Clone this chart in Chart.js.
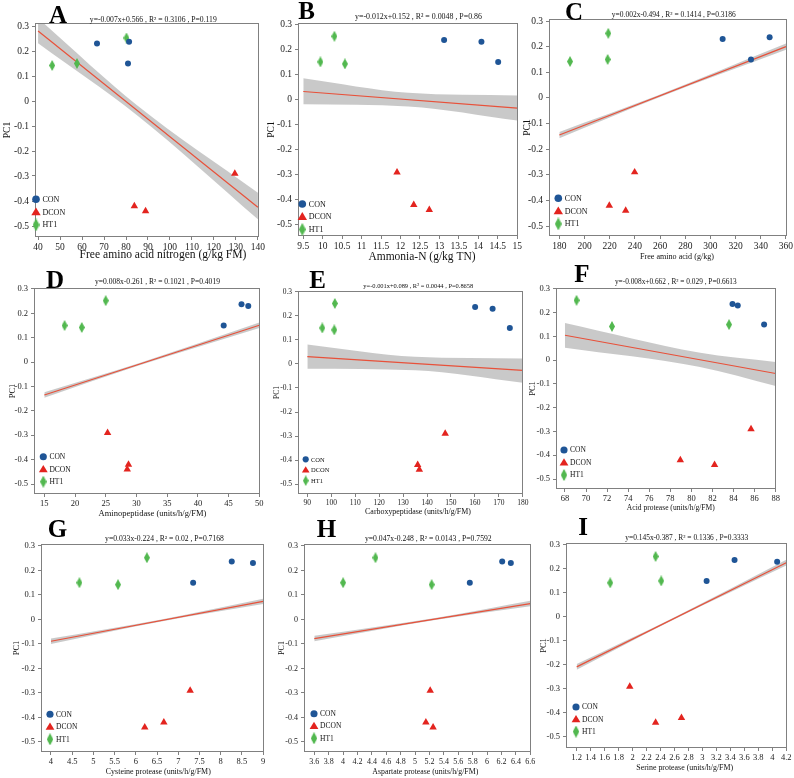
<!DOCTYPE html>
<html>
<head>
<meta charset="utf-8">
<script src="https://cdn.jsdelivr.net/npm/chart.js@4.4.1/dist/chart.umd.min.js"></script>
<style>
  html, body { margin: 0; padding: 0; background: #fff; }
  body { width: 794px; height: 778px; position: relative; overflow: hidden; }
  canvas { position: absolute; }
</style>
</head>
<body>
<script>
// Textes des panneaux
const panelLetters = ["A", "B", "C", "D", "E", "F", "G", "H", "I"];
const xTitles = [
    "Free amino acid nitrogen (g/kg FM)",
    "Ammonia-N (g/kg TN)",
    "Free amino acid (g/kg)",
    "Aminopeptidase (units/h/g/FM)",
    "Carboxypeptidase (units/h/g/FM)",
    "Acid protease (units/h/g/FM)",
    "Cysteine protease (units/h/g/FM)",
    "Aspartate protease (units/h/g/FM)",
    "Serine protease (units/h/g/FM)"
];
const equations = [
    "y=-0.007x+0.566 , R² = 0.3106 , P=0.119",
    "y=-0.012x+0.152 , R² = 0.0048 , P=0.86",
    "y=0.002x-0.494 , R² = 0.1414 , P=0.3186",
    "y=0.008x-0.261 , R² = 0.1021 , P=0.4019",
    "y=-0.001x+0.089 , R² = 0.0044 , P=0.8658",
    "y=-0.008x+0.662 , R² = 0.029 , P=0.6613",
    "y=0.033x-0.224 , R² = 0.02 , P=0.7168",
    "y=0.047x-0.248 , R² = 0.0143 , P=0.7592",
    "y=0.145x-0.387 , R² = 0.1336 , P=0.3333"
];
const groupNames = ["CON", "DCON", "HT1"];

// PC1 (même valeurs dans chaque panneau)
const pc1Con = [0.237, 0.230, 0.150];
const pc1Dcon = [-0.290, -0.420, -0.440];
const pc1Ht1 = [0.252, 0.150, 0.142];

// valeurs x par panneau (A..I), dans l'ordre des PC1 ci-dessus
const conX = [
    [81.4, 66.8, 80.9], [13.12, 14.08, 14.51], [347.0, 309.7, 332.2],
    [47.1, 48.2, 44.2], [160.1, 167.4, 174.6], [83.9, 84.4, 86.9],
    [8.26, 8.76, 7.35], [6.21, 6.33, 5.76], [3.46, 4.07, 3.06]
];
const dconX = [
    [129.5, 83.8, 88.9], [11.91, 12.34, 12.74], [239.8, 219.7, 232.7],
    [25.3, 28.7, 28.5], [147.6, 136.1, 136.8], [85.66, 78.95, 82.2],
    [7.28, 6.66, 6.21], [5.21, 5.15, 5.25], [1.96, 2.70, 2.33]
];
const ht1X = [
    [80.2, 57.7, 46.4], [10.30, 9.94, 10.57], [218.9, 218.4, 188.5],
    [25.0, 18.3, 21.1], [101.5, 96.25, 101.25], [69.1, 83.57, 72.46],
    [6.26, 4.67, 5.58], [4.45, 4.00, 5.23], [2.33, 2.41, 1.68]
];

// droite de régression (extrémités)
const fitX = [[40, 140], [9.5, 15], [180, 360], [15, 50], [90, 180], [68, 88], [4, 9], [3.6, 6.6], [1.2, 4.2]];
const fitY = [[0.280, -0.425], [0.032, -0.034], [-0.145, 0.200], [-0.135, 0.151], [0.031, -0.027],
              [0.105, -0.056], [-0.089, 0.074], [-0.078, 0.065], [-0.208, 0.226]];

// bande de confiance (début, milieu, fin)
const bandX = [[40, 85, 140], [9.5, 12.2, 15], [180, 258, 360], [15, 30.5, 50], [90, 135, 180],
               [68, 80.7, 88], [4, 6.6, 9], [3.6, 5.3, 6.6], [1.2, 2.6, 4.2]];
const bandUpper = [[0.331, -0.017, -0.367], [0.085, 0.027, 0.016], [-0.133, 0.009, 0.212],
                   [-0.124, -0.004, 0.162], [0.081, 0.030, 0.023], [0.157, 0.033, -0.007],
                   [-0.078, 0.000, 0.085], [-0.067, 0.007, 0.076], [-0.196, -0.001, 0.238]];
const bandLower = [[0.231, -0.057, -0.473], [-0.019, -0.028, -0.084], [-0.157, 0.000, 0.188],
                   [-0.146, -0.013, 0.140], [-0.020, -0.026, -0.078], [0.053, -0.027, -0.108],
                   [-0.100, -0.008, 0.063], [-0.089, -0.001, 0.054], [-0.220, -0.010, 0.214]];

// graduations
const yTicks = [-0.5, -0.4, -0.3, -0.2, -0.1, 0, 0.1, 0.2, 0.3];
const xTicks = [
    [40, 50, 60, 70, 80, 90, 100, 110, 120, 130, 140],
    [9.5, 10, 10.5, 11, 11.5, 12, 12.5, 13, 13.5, 14, 14.5, 15],
    [180, 200, 220, 240, 260, 280, 300, 320, 340, 360],
    [15, 20, 25, 30, 35, 40, 45, 50],
    [90, 100, 110, 120, 130, 140, 150, 160, 170, 180],
    [68, 70, 72, 74, 76, 78, 80, 82, 84, 86, 88],
    [4, 4.5, 5, 5.5, 6, 6.5, 7, 7.5, 8, 8.5, 9],
    [3.6, 3.8, 4, 4.2, 4.4, 4.6, 4.8, 5, 5.2, 5.4, 5.6, 5.8, 6, 6.2, 6.4, 6.6],
    [1.2, 1.4, 1.6, 1.8, 2, 2.2, 2.4, 2.6, 2.8, 3, 3.2, 3.4, 3.6, 3.8, 4, 4.2]
];

// mise en page (coordonnées de la page)
const layout = [
    { frame: [35, 23, 259, 237], xr: [38.6, 140.5], yr: [-0.544, 0.312], tick: 9.5, letter: [58, 22.7], eq: [153.3, 20, 127], xt: [163, 255, 167], pc1: -28, leg: [1, -37.7, 12.8], legFont: 8 },
    { frame: [298, 23, 518, 236], xr: [9.364, 15.02], yr: [-0.544, 0.305], tick: 9.5, letter: [306.7, 19.3], eq: [418.5, 17.3, 127], xt: [422, 256.7, 107], pc1: -27, leg: [4.3, -32, 12.7], legFont: 8 },
    { frame: [549, 19, 787, 236], xr: [171.8, 360.8], yr: [-0.539, 0.308], tick: 9.5, letter: [574, 20], eq: [673.8, 15, 124], xt: [677, 257, 74], pc1: -22, leg: [9.3, -37.7, 12.8], legFont: 8 },
    { frame: [34, 288, 260, 494], xr: [13.32, 50.11], yr: [-0.541, 0.304], tick: 8.5, letter: [55, 288.3], eq: [157.5, 281.7, 125], xt: [152.5, 513.3, 108], pc1: -21, leg: [9.3, -37.3, 12.5], legFont: 7.5 },
    { frame: [298, 291, 523, 494], xr: [86.1, 180.1], yr: [-0.5415, 0.304], tick: 7.5, letter: [317.5, 287.7], eq: [418.3, 286, 110], xt: [418, 511.7, 106], pc1: -21, leg: [7.7, -34.7, 10.7], legFont: 6.5 },
    { frame: [556, 288, 776, 489], xr: [67.15, 88.03], yr: [-0.542, 0.304], tick: 8.5, letter: [582, 281.7], eq: [675.8, 281.7, 122], xt: [670.8, 508.3, 88], pc1: -23, leg: [8, -39, 12.5], legFont: 7.5 },
    { frame: [41, 544, 264, 752], xr: [3.765, 9.02], yr: [-0.541, 0.308], tick: 8.5, letter: [57.5, 536.7], eq: [164.5, 539, 119], xt: [158.3, 771.7, 105], pc1: -24, leg: [9, -37.7, 12.5], legFont: 7.5 },
    { frame: [304, 544, 531, 752], xr: [3.457, 6.61], yr: [-0.541, 0.308], tick: 8, letter: [326.5, 536.7], eq: [428.3, 539, 127], xt: [425.3, 771.7, 106], pc1: -22, leg: [10, -38.3, 12.3], legFont: 7.5 },
    { frame: [566, 543, 787, 748], xr: [1.047, 4.211], yr: [-0.546, 0.308], tick: 8.5, letter: [583, 535], eq: [686.7, 538.3, 123], xt: [684.7, 768.3, 97], pc1: -22, leg: [10, -41, 12.3], legFont: 7.5 }
];

const SERIF = '"Liberation Serif", "Times New Roman", serif';
const colCon = "#1f5596";
const colDcon = "#e3241f";
const colHt1 = "#52b84f";

// losange allongé pour HT1
function diamond(w, h, color) {
    const c = document.createElement("canvas");
    c.width = w; c.height = h;
    const g = c.getContext("2d");
    g.fillStyle = color;
    g.beginPath();
    g.moveTo(w / 2, 0); g.lineTo(w, h / 2); g.lineTo(w / 2, h); g.lineTo(0, h / 2);
    g.closePath(); g.fill();
    return c;
}
const ht1Marker = diamond(6, 11, colHt1);

function fitText(ctx, txt, x, y, width, base, weight) {
    ctx.font = (weight || "") + " " + base + "px " + SERIF;
    const m = ctx.measureText(txt).width;
    ctx.font = (weight || "") + " " + (base * width / m).toFixed(2) + "px " + SERIF;
    ctx.textAlign = "center";
    ctx.textBaseline = "middle";
    ctx.fillText(txt, x, y);
}

// textes, cadre et légende de chaque panneau
const panelText = {
    id: "panelText",
    afterDraw(chart, args, o) {
        const i = o.idx, L = layout[i];
        const ctx = chart.ctx, a = chart.chartArea;
        ctx.save();
        ctx.strokeStyle = "#808080";
        ctx.lineWidth = 1;
        ctx.strokeRect(a.left + 0.5, a.top + 0.5, a.right - a.left - 1, a.bottom - a.top - 1);

        ctx.fillStyle = "#000";
        ctx.font = "bold 25px " + SERIF;
        ctx.textAlign = "center";
        ctx.textBaseline = "alphabetic";
        ctx.fillText(panelLetters[i], L.letter[0] - o.ox, L.letter[1] - o.oy);

        ctx.fillStyle = "#111";
        fitText(ctx, equations[i], L.eq[0] - o.ox, L.eq[1] - o.oy, L.eq[2], 8);
        fitText(ctx, xTitles[i], L.xt[0] - o.ox, L.xt[1] - o.oy, L.xt[2], 10);

        ctx.save();
        ctx.translate(a.left + L.pc1, (a.top + a.bottom) / 2);
        ctx.rotate(-Math.PI / 2);
        ctx.font = L.tick + "px " + SERIF;
        ctx.textAlign = "center";
        ctx.textBaseline = "middle";
        ctx.fillText("PC1", 0, 0);
        ctx.restore();

        // légende
        const k = L.legFont / 8;
        const lx = a.left + L.leg[0];
        for (let j = 0; j < 3; j++) {
            const y = a.bottom + L.leg[1] + j * L.leg[2];
            if (j === 0) {
                ctx.fillStyle = colCon;
                ctx.beginPath(); ctx.arc(lx, y, 3.8 * k, 0, Math.PI * 2); ctx.fill();
            } else if (j === 1) {
                ctx.fillStyle = colDcon;
                ctx.beginPath();
                ctx.moveTo(lx, y - 4.6 * k); ctx.lineTo(lx + 4.7 * k, y + 3.2 * k); ctx.lineTo(lx - 4.7 * k, y + 3.2 * k);
                ctx.closePath(); ctx.fill();
            } else {
                ctx.drawImage(ht1Marker, lx - 3.5 * k, y - 6.5 * k, 7 * k, 13 * k);
            }
            ctx.fillStyle = "#111";
            ctx.font = L.legFont + "px " + SERIF;
            ctx.textAlign = "left";
            ctx.textBaseline = "middle";
            ctx.fillText(groupNames[j], lx + 6.5 * k, y + 0.5);
        }
        ctx.restore();
    }
};

function pts(xs, ys) {
    return xs.map((x, n) => ({ x: x, y: ys[n] }));
}

function makePanel(i) {
    const L = layout[i];
    const [fl, ft, fr, fb] = L.frame;
    const left = Math.round(fl) - 36, top = Math.round(ft) - 26;
    const w = Math.round(fr - fl) + 36 + 14, h = Math.round(fb - ft) + 26 + 34;
    const cv = document.createElement("canvas");
    cv.width = w; cv.height = h;
    cv.style.left = left + "px"; cv.style.top = top + "px";
    cv.style.width = w + "px"; cv.style.height = h + "px";
    document.body.appendChild(cv);

    const tickFont = { family: SERIF, size: L.tick };
    const grid = { drawOnChartArea: false, drawTicks: true, tickLength: 3, color: "#808080", lineWidth: 1 };

    new Chart(cv, {
        type: "scatter",
        data: {
            datasets: [
                {
                    type: "line", data: pts(bandX[i], bandUpper[i]),
                    borderColor: "rgba(0,0,0,0)", borderWidth: 1, pointRadius: 0,
                    cubicInterpolationMode: "monotone", fill: false, order: 6
                },
                {
                    type: "line", data: pts(bandX[i], bandLower[i]),
                    borderColor: "rgba(0,0,0,0)", borderWidth: 1, pointRadius: 0,
                    cubicInterpolationMode: "monotone", fill: "-1",
                    backgroundColor: "rgba(165,165,165,0.6)", order: 5
                },
                {
                    type: "line", data: pts(fitX[i], fitY[i]),
                    borderColor: "#e8513a", borderWidth: 1.2, pointRadius: 0, fill: false, order: 4
                },
                {
                    label: "CON", data: pts(conX[i], pc1Con),
                    pointStyle: "circle", pointRadius: 3, backgroundColor: colCon, pointBorderWidth: 0, order: 1
                },
                {
                    label: "DCON", data: pts(dconX[i], pc1Dcon),
                    pointStyle: "triangle", pointRadius: 4.3, backgroundColor: colDcon, pointBorderWidth: 0, order: 2
                },
                {
                    label: "HT1", data: pts(ht1X[i], pc1Ht1),
                    pointStyle: ht1Marker, pointRadius: 5, backgroundColor: colHt1, pointBorderWidth: 0, order: 3
                }
            ]
        },
        options: {
            responsive: false,
            animation: false,
            events: [],
            layout: { padding: { top: 26, right: 14, bottom: 0, left: 0 } },
            plugins: {
                legend: { display: false },
                tooltip: { enabled: false },
                title: { display: false },
                panelText: { idx: i, ox: left, oy: top }
            },
            scales: {
                x: {
                    type: "linear", position: "bottom", min: L.xr[0], max: L.xr[1],
                    afterBuildTicks: s => { s.ticks = xTicks[i].map(v => ({ value: v })); },
                    afterFit: s => { s.height = 34; s.paddingLeft = 0; s.paddingRight = 0; },
                    grid: grid, border: { display: false },
                    ticks: { autoSkip: false, maxRotation: 0, minRotation: 0, padding: 2, color: "#222",
                             font: tickFont, callback: v => String(v) }
                },
                y: {
                    type: "linear", position: "left", min: L.yr[0], max: L.yr[1],
                    afterBuildTicks: s => { s.ticks = yTicks.map(v => ({ value: v })); },
                    afterFit: s => { s.width = 36; s.paddingTop = 0; s.paddingBottom = 0; },
                    grid: grid, border: { display: false },
                    ticks: { padding: 3, color: "#222", font: tickFont, callback: v => String(v) }
                }
            }
        },
        plugins: [panelText]
    });
}

for (let i = 0; i < 9; i++) makePanel(i);
</script>
</body>
</html>
